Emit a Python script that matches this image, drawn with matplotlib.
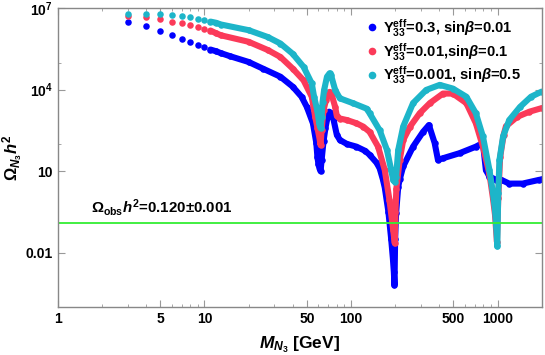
import numpy as np
import matplotlib
matplotlib.use("Agg")
import matplotlib.pyplot as plt
from matplotlib.lines import Line2D
from matplotlib.ticker import FixedLocator, NullFormatter

plt.rcParams['font.family'] = 'Liberation Sans'
plt.rcParams['font.weight'] = 'bold'
plt.rcParams['axes.labelweight'] = 'bold'
plt.rcParams['mathtext.fontset'] = 'custom'
plt.rcParams['mathtext.rm'] = 'Liberation Sans:bold'
plt.rcParams['mathtext.it'] = 'Liberation Sans:bold:italic'
plt.rcParams['mathtext.bf'] = 'Liberation Sans:bold'

# Y33=0.3, sin(beta)=0.01
m_blue = [3, 4, 5, 6, 7, 8, 9, 10, 11, 12, 13, 15, 20, 25, 33, 40, 46, 50, 55,
          58, 59, 60, 61, 62, 63, 65, 67, 69, 71, 73, 76, 80, 84, 94, 109, 125,
          134, 150, 157, 165, 170, 180, 188, 193, 196, 198, 200, 203, 210, 215,
          227, 265, 310, 340, 372, 392, 424, 550, 711, 794, 832, 880, 980, 1060,
          1200, 1480, 1920, 2000]
om_blue = [3.2e6, 2.3e6, 1.4e6, 1.0e6, 7.2e5, 5.6e5, 4.4e5, 3.7e5, 3.0e5, 2.6e5,
           2.2e5, 1.7e5, 1.05e5, 6.0e4, 3.0e4, 1.3e4, 5.5e3, 2.3e3, 5.8e2,
           1.1e2, 34, 18, 12.5, 10, 25, 1.3e2, 4.0e2, 9.0e2, 1.55e3, 1.4e3, 8.0e2,
           2.2e2, 1.4e2, 1.0e2, 80, 56, 40, 20, 12.6, 5.0, 2.5, 0.32, 0.032,
           6.3e-3, 2.0e-3, 6.3e-4, 0.032, 0.28, 2.7, 5.0, 15, 80, 2.8e2, 5.0e2,
           1.1e2, 26, 30, 46, 80, 1.1e2, 11, 6.3, 4.8, 4.8, 3.5, 3.5, 4.8, 5.0]

# Y33=0.01, sin(beta)=0.1
m_red = [3, 4, 5, 6, 7, 8, 9, 10, 11, 12, 13, 20, 27, 33, 40, 47.5, 54, 57, 59,
         61, 62, 63, 65, 67.6, 71.4, 74, 78, 80, 84, 94, 109, 121, 134, 153, 170,
         183, 194, 199, 201, 204, 215, 227, 253, 294, 345, 424, 495, 612, 711,
         794, 880, 930, 960, 990, 1010, 1040, 1100, 1140, 1360, 1650, 2000]
om_red = [5.2e6, 4.8e6, 4.0e6, 3.2e6, 2.75e6, 2.35e6, 1.95e6, 1.7e6, 1.5e6, 1.2e6,
          1.0e6, 5.8e5, 2.9e5, 1.6e5, 6.0e4, 2.2e4, 5.5e3, 1.0e3, 4.0e2, 1.6e2,
          91, 3.2e2, 1.8e3, 4.2e3, 8.3e3, 6.3e3, 2.3e3, 1.1e3, 8.7e2, 7.6e2,
          5.8e2, 4.4e2, 2.8e2, 80, 11, 0.87, 0.069, 0.022, 0.32, 2.3, 26, 1.4e2,
          4.4e2, 1.35e3, 3.2e3, 7.2e3, 7.2e3, 3.2e3, 5.8e2, 80, 7.9, 1.0, 0.25,
          0.025, 1.0, 32, 2.2e2, 4.5e2, 1.0e3, 1.55e3, 2.1e3]

# Y33=0.001, sin(beta)=0.5
m_cyan = [3, 4, 5, 6, 7, 8, 9, 10, 11, 12, 13, 20, 27, 33, 40, 47.5, 54, 56,
          58.8, 60.7, 62, 63, 64, 65.6, 68.6, 71.4, 73, 78, 84, 103, 128, 134,
          157, 176, 188, 194, 199, 203, 210, 227, 265, 326, 403, 495, 612, 711,
          794, 880, 930, 960, 980, 995, 1010, 1030, 1090, 1200, 1420, 1690, 2000]
om_cyan = [6.0e6, 6.3e6, 6.0e6, 5.5e6, 5.1e6, 4.6e6, 4.0e6, 3.6e6, 3.2e6, 2.9e6,
           2.5e6, 1.55e6, 8.7e5, 5.0e5, 2.1e5, 6.9e4, 1.7e4, 5.5e3, 1.8e3, 5.8e2,
           3.8e2, 1.0e3, 3.6e3, 9.8e3, 3.0e4, 4.0e4, 3.5e4, 9.8e3, 4.8e3, 3.2e3,
           2.0e3, 1.35e3, 3.2e2, 60, 11, 4.8, 4.0, 6.3, 60, 4.4e2, 3.2e3, 9.8e3,
           1.5e4, 1.1e4, 5.5e3, 1.35e3, 1.9e2, 11, 1.55, 0.37, 0.091, 0.017, 1.55,
           26, 1.9e2, 7.6e2, 2.3e3, 5.5e3, 8.5e3]

labels = [r'Y$^{\mathrm{eff}}_{33}$=0.3, sin$\beta$=0.01',
          r'Y$^{\mathrm{eff}}_{33}$=0.01,sin$\beta$=0.1',
          r'Y$^{\mathrm{eff}}_{33}$=0.001, sin$\beta$=0.5']
colors = ['#0000ff', '#fb3a59', '#1db5c9']
omega_obs = 0.120

fig = plt.figure(figsize=(5.45, 3.55), dpi=100)
ax = fig.add_axes([0.106, 0.135, 0.888, 0.842])

for m, om, c in zip([m_blue, m_red, m_cyan], [om_blue, om_red, om_cyan], colors):
    m = np.array(m)
    om = np.array(om)
    sel = m >= 11
    ax.plot(m[sel], om[sel], '-', color=c, lw=4.4, solid_capstyle='round',
            solid_joinstyle='round')
    ax.plot(m, om, 'o', color=c, ms=4.7, mew=0)

ax.axhline(omega_obs, color='#33ee33', lw=1.3)
ax.text(1.68, 0.19, r'$\Omega_{\mathrm{obs}}h^2$=0.120±0.001', fontsize=10.8,
        va='bottom', ha='left')

ax.set_xscale('log')
ax.set_yscale('log')
ax.set_xlim(1, 2000)
ax.set_ylim(1e-4, 1e7)

ax.xaxis.set_major_locator(FixedLocator([1, 5, 10, 50, 100, 500, 1000]))
ax.set_xticklabels(['1', '5', '10', '50', '100', '500', '1000'])
xminor = [k * 10 ** d for d in range(0, 4) for k in range(2, 10)
          if k != 5 and k * 10 ** d <= 2000]
ax.xaxis.set_minor_locator(FixedLocator(xminor))
ax.xaxis.set_minor_formatter(NullFormatter())

ax.yaxis.set_major_locator(FixedLocator([1e7, 1e4, 10, 0.01]))
ax.set_yticklabels(['10$^7$', '10$^4$', '10', '0.01'])
ax.yaxis.set_minor_locator(FixedLocator([1e5, 1e2]))
ax.yaxis.set_minor_formatter(NullFormatter())

ax.tick_params(which='both', direction='in', top=True, right=True,
               color='#999999', labelsize=10)
ax.tick_params(which='major', length=5, width=0.8)
ax.tick_params(which='minor', length=2.5, width=0.6)
for s in ax.spines.values():
    s.set_color('#888888')
    s.set_linewidth(1.0)

ax.set_xlabel(r'$M_{N_3}$ [GeV]', fontsize=12.5, labelpad=6)
ax.set_ylabel(r'$\Omega_{N_3}h^2$', fontsize=12)
ax.yaxis.set_label_coords(-0.068, 0.5)

handles = [Line2D([], [], ls='none', marker='o', color=c, ms=5.5, mew=0)
           for c in colors]
ax.legend(handles, labels, loc='upper right', frameon=False, fontsize=10.6,
          handletextpad=0.25, handlelength=1.0, labelspacing=0.12,
          borderaxespad=0.0, bbox_to_anchor=(0.97, 0.99))

fig.savefig('out.png', dpi=100)
